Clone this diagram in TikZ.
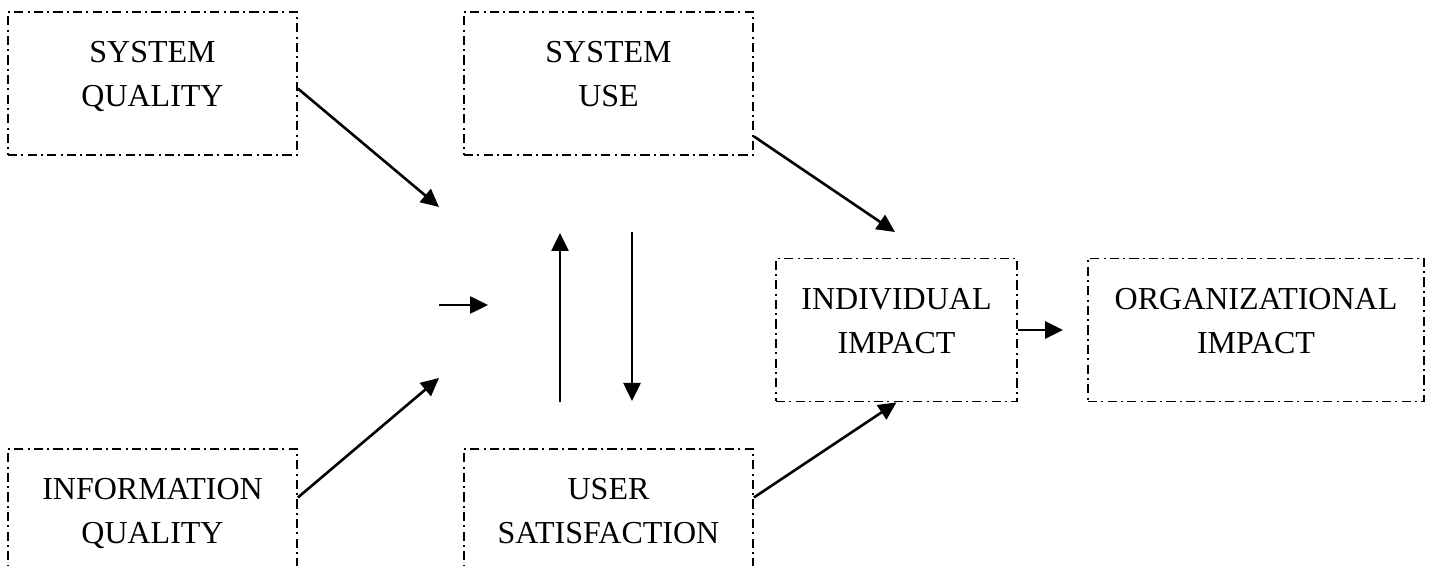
\documentclass[tikz,border=0pt]{standalone}
\usepackage{fontspec}
\setmainfont{Liberation Serif}
\usepackage{tikz}
\usetikzlibrary{arrows.meta,positioning}

\begin{document}
\begin{tikzpicture}[x=0.5pt,y=-0.5pt,
    box/.style={draw, line width=0.9pt, dash pattern=on 4.6pt off 2.1pt on 1pt off 2.1pt,
      minimum width=144.5pt, minimum height=71.5pt, inner sep=0pt},
    txt/.style={anchor=north, inner sep=0pt, align=center,
      font=\fontsize{16}{22}\selectfont},
    arr/.style={-{Triangle[length=9pt,width=8.5pt]}, line width=1.3pt}]
  \clip (0,0) rectangle (1435,566);

  % The boxes
  \node[box] (sq) at (152.5,83.5) {};
  \node[box] (su) at (608.5,83.5) {};
  \node[box] (iq) at (152.5,520.5) {};
  \node[box] (us) at (608.5,520.5) {};
  \node[box, minimum width=120.5pt] (ii) at (896.5,330) {};
  \node[box, minimum width=168pt] (oi) at (1256,330) {};

  % Their texts
  \node[txt, below=15pt of sq.north] (sq-t) {SYSTEM\\QUALITY};
  \node[txt, below=15pt of su.north] (su-t) {SYSTEM\\USE};
  \node[txt, below=15pt of iq.north] (iq-t) {INFORMATION\\QUALITY};
  \node[txt, below=15pt of us.north] (us-t) {USER\\SATISFACTION};
  \node[txt, below=15pt of ii.north] (ii-t) {INDIVIDUAL\\IMPACT};
  \node[txt, below=15pt of oi.north] (oi-t) {ORGANIZATIONAL\\IMPACT};

  % Free ends in the middle
  \coordinate (in-a) at (439,207);
  \coordinate (in-b) at (439,378);
  \coordinate (mid-l) at (439,305);
  \coordinate (mid-r) at (488,305);
  \coordinate (up-b) at (560,402);
  \coordinate (up-t) at (560,233);
  \coordinate (dn-t) at (632,232);
  \coordinate (dn-b) at (632,401);
  \coordinate (ii-in) at (895,232);

  % The connectors
  \draw[arr] (sq.-2) -- (in-a);
  \draw[arr] (iq.9) -- (in-b);
  \draw[arr] (mid-l) -- (mid-r);
  \draw[arr] (up-b) -- (up-t);
  \draw[arr] (dn-t) -- (dn-b);
  \draw[arr] (su.-20) -- (ii-in);
  \draw[arr] (us.9) -- (ii.south);
  \draw[arr, shorten >=12pt] (ii) -- (oi);
\end{tikzpicture}
\end{document}
